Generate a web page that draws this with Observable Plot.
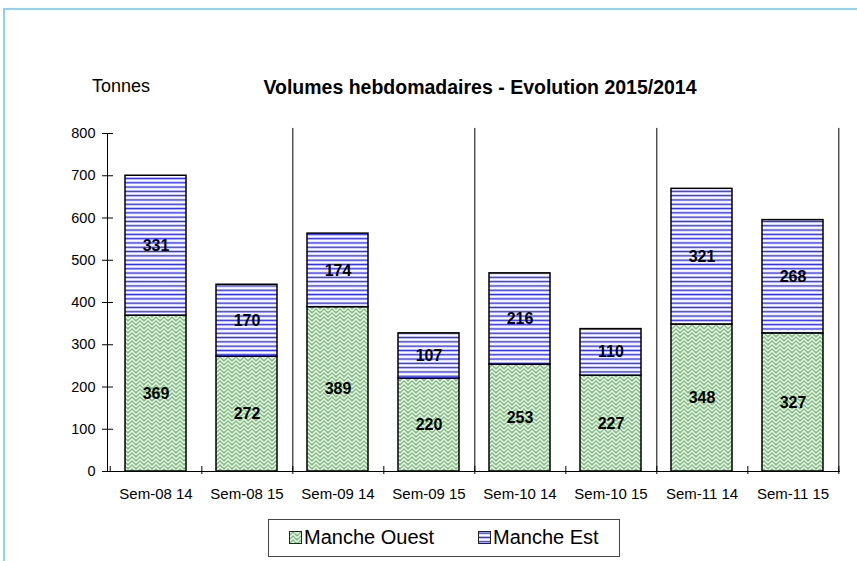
<!DOCTYPE html>
<html>
<head>
<meta charset="utf-8">
<script src="https://cdn.jsdelivr.net/npm/d3@7"></script>
<script src="https://cdn.jsdelivr.net/npm/@observablehq/plot@0.6"></script>
<style>
  html, body { margin: 0; padding: 0; background: #fff; }
  #wrap { position: relative; width: 857px; height: 561px; overflow: hidden; font-family: "Liberation Sans", Arial, sans-serif; color: #000; }
  #frame { position: absolute; left: 3px; top: 8px; width: 900px; height: 600px; border-top: 2px solid #8dd4f2; border-left: 2px solid #8dd4f2; box-sizing: border-box; }
  #chart { position: absolute; left: 0; top: 0; }
  #title { position: absolute; left: 0; width: 960px; top: 76px; text-align: center; font-weight: bold; font-size: 19.5px; white-space: nowrap; }
  #unit { position: absolute; left: 92px; top: 76px; font-size: 18px; }
  #legend { position: absolute; left: 268px; top: 519px; width: 352px; height: 38px; border: 1px solid #444; box-sizing: border-box; font-size: 20px; }
  .item { display: flex; align-items: center; position: absolute; top: 6px; }
  .item svg { margin-right: 2px; }
</style>
</head>
<body>
<svg width="0" height="0" style="position:absolute">
  <defs>
    <pattern id="pOuest" patternUnits="userSpaceOnUse" width="8" height="8">
      <rect width="8" height="8" fill="#72c272"/>
      <path d="M0,3 L4,-1 L8,3 M0,7 L4,3 L8,7 M0,11 L4,7 L8,11" fill="none" stroke="#ffffff" stroke-width="1.4"/>
    </pattern>
    <pattern id="pEst" patternUnits="userSpaceOnUse" width="8" height="4.3">
      <rect width="8" height="4.3" fill="#ffffff"/>
      <rect y="1.4" width="8" height="1.5" fill="#2a2aff"/>
    </pattern>
  </defs>
</svg>
<div id="wrap">
  <div id="frame"></div>
  <div id="chart"></div>
  <div id="unit">Tonnes</div>
  <div id="title">Volumes hebdomadaires - Evolution 2015/2014</div>
  <div id="legend">
    <div class="item" style="left:20px"><svg width="13" height="13"><rect x="0.5" y="0.5" width="12" height="12" fill="url(#pOuest)" stroke="#222"/></svg>Manche Ouest</div>
    <div class="item" style="left:209px"><svg width="13" height="13"><rect x="0.5" y="0.5" width="12" height="12" fill="url(#pEst)" stroke="#222"/></svg>Manche Est</div>
  </div>
</div>
<script>
const categories = ["Sem-08 14","Sem-08 15","Sem-09 14","Sem-09 15","Sem-10 14","Sem-10 15","Sem-11 14","Sem-11 15"];
const series = ["Manche Ouest","Manche Est"];
const mancheOuest = [369,272,389,220,253,227,348,327];
const mancheEst = [331,170,174,107,216,110,321,268];
const yTicks = [0,100,200,300,400,500,600,700,800];
const groupEnds = ["Sem-08 15","Sem-09 15","Sem-10 15","Sem-11 15"];

const data = [
  ...categories.map((c, i) => ({cat: c, series: series[0], value: mancheOuest[i]})),
  ...categories.map((c, i) => ({cat: c, series: series[1], value: mancheEst[i]}))
];

const W = 857, H = 561, mL = 107, mR = 17, mT = 133, mB = 90;
const step = (W - mL - mR) / categories.length;

const chart = Plot.plot({
  width: W,
  height: H,
  marginLeft: mL,
  marginRight: mR,
  marginTop: mT,
  marginBottom: mB,
  style: {fontFamily: "Liberation Sans, Arial, sans-serif", color: "#000", background: "transparent"},
  x: {domain: categories, paddingInner: 0.33, paddingOuter: 0.165, label: null},
  y: {domain: [0, 800], label: null},
  color: {domain: series, range: ["url(#pOuest)", "url(#pEst)"]},
  marks: [
    Plot.barY(data, {x: "cat", y: "value", fill: "series", z: "series", stroke: "#000", strokeWidth: 1.5, order: series}),
    Plot.text(data, Plot.stackY({x: "cat", y: "value", z: "series", text: d => d.value, order: series, fontWeight: "bold", fontSize: 16, fill: "#000"})),
    Plot.ruleY([0], {stroke: "#000"}),
    Plot.frame({anchor: "left", stroke: "#000"}),
    Plot.ruleX(categories, {x: d => d, y1: 0, y2: 0, dx: step / 2, insetTop: -5, insetBottom: -3, stroke: "#000"}),
    Plot.ruleX([categories[0]], {x: d => d, y1: 0, y2: 0, dx: -step / 2, insetTop: -5, insetBottom: 0, stroke: "#000"}),
    Plot.ruleX(groupEnds, {x: d => d, y1: 0, y2: 812, dx: step / 2, stroke: "#000"}),
    Plot.axisY(yTicks, {tickSize: 11, dx: 6, tickPadding: 7, fontSize: 14.5, tickFormat: d => d}),
    Plot.axisX({tickSize: 0, tickPadding: 17, fontSize: 15})
  ]
});
document.getElementById("chart").appendChild(chart);
</script>
</body>
</html>
